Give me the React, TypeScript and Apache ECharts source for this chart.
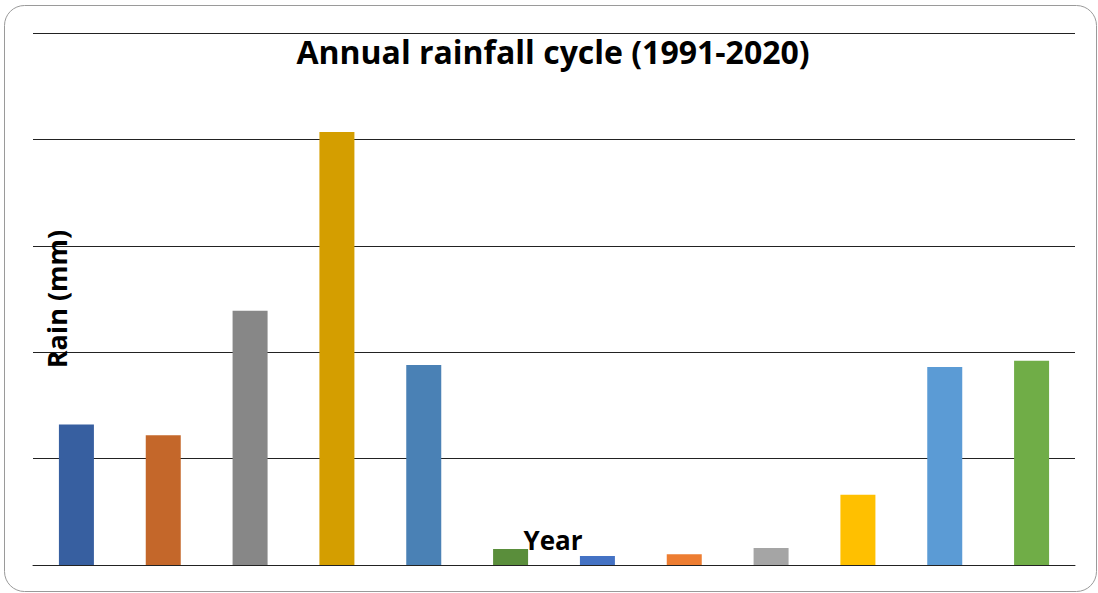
import React, { useEffect, useRef } from "react";
import * as echarts from "echarts";

const months = ["Jan", "Feb", "Mar", "Apr", "May", "Jun", "Jul", "Aug", "Sep", "Oct", "Nov", "Dec"];
const rainfall = [132, 122, 239, 407, 188, 15, 8.5, 10, 16, 66, 186, 192];
const barColors = [
  "#375FA0", "#C4672A", "#878787", "#D49E00", "#4A81B5", "#5A8E3B",
  "#4472C4", "#ED7D31", "#A5A5A5", "#FFC000", "#5B9BD5", "#70AD47",
];
const titleText = "Annual rainfall cycle (1991-2020)";
const yName = "Rain (mm)";
const xName = "Year";

export default function App() {
  const ref = useRef<HTMLDivElement>(null);
  useEffect(() => {
    if (!ref.current) return;
    const chart = echarts.init(ref.current, null, { renderer: "svg" });
    const font = "'Open Sans', Lato, sans-serif";
    chart.setOption({
      animation: false,
      backgroundColor: "#ffffff",
      grid: { left: 33, right: 23, top: 33, bottom: 28 },
      graphic: [
        {
          type: "rect",
          shape: { x: 4.5, y: 5.5, width: 1092, height: 586, r: 20 },
          style: { fill: "none", stroke: "#9a9a9a", lineWidth: 1 },
          z: -1,
        },
        {
          type: "text",
          x: 553,
          y: 51,
          style: {
            text: titleText,
            fontFamily: font,
            fontWeight: "bold",
            fontSize: 32,
            fill: "#000",
            align: "center",
            verticalAlign: "middle",
          },
        },
        {
          type: "text",
          x: 553,
          y: 540,
          style: {
            text: xName,
            fontFamily: font,
            fontWeight: "bold",
            fontSize: 26,
            fill: "#000",
            align: "center",
            verticalAlign: "middle",
          },
        },
      ],
      xAxis: {
        type: "category",
        data: months,
        axisLine: { show: true, lineStyle: { color: "#222", width: 1 } },
        axisTick: { show: false },
        axisLabel: { show: false },
      },
      yAxis: {
        type: "value",
        min: 0,
        max: 500,
        interval: 100,
        name: yName,
        nameLocation: "middle",
        nameRotate: 90,
        nameGap: -37,
        nameTextStyle: {
          fontFamily: font,
          fontWeight: "bold",
          fontSize: 27,
          color: "#000",
        },
        axisLine: { show: false },
        axisTick: { show: false },
        axisLabel: { show: false },
        splitLine: { show: true, lineStyle: { color: "#222", width: 1 } },
      },
      series: [
        {
          type: "bar",
          barWidth: 35,
          data: rainfall.map((v, i) => ({ value: v, itemStyle: { color: barColors[i] } })),
        },
      ],
    });
    return () => chart.dispose();
  }, []);
  return (
    <div
      ref={ref}
      style={{ position: "fixed", left: 0, top: 0, width: 1098, height: 593 }}
    />
  );
}
